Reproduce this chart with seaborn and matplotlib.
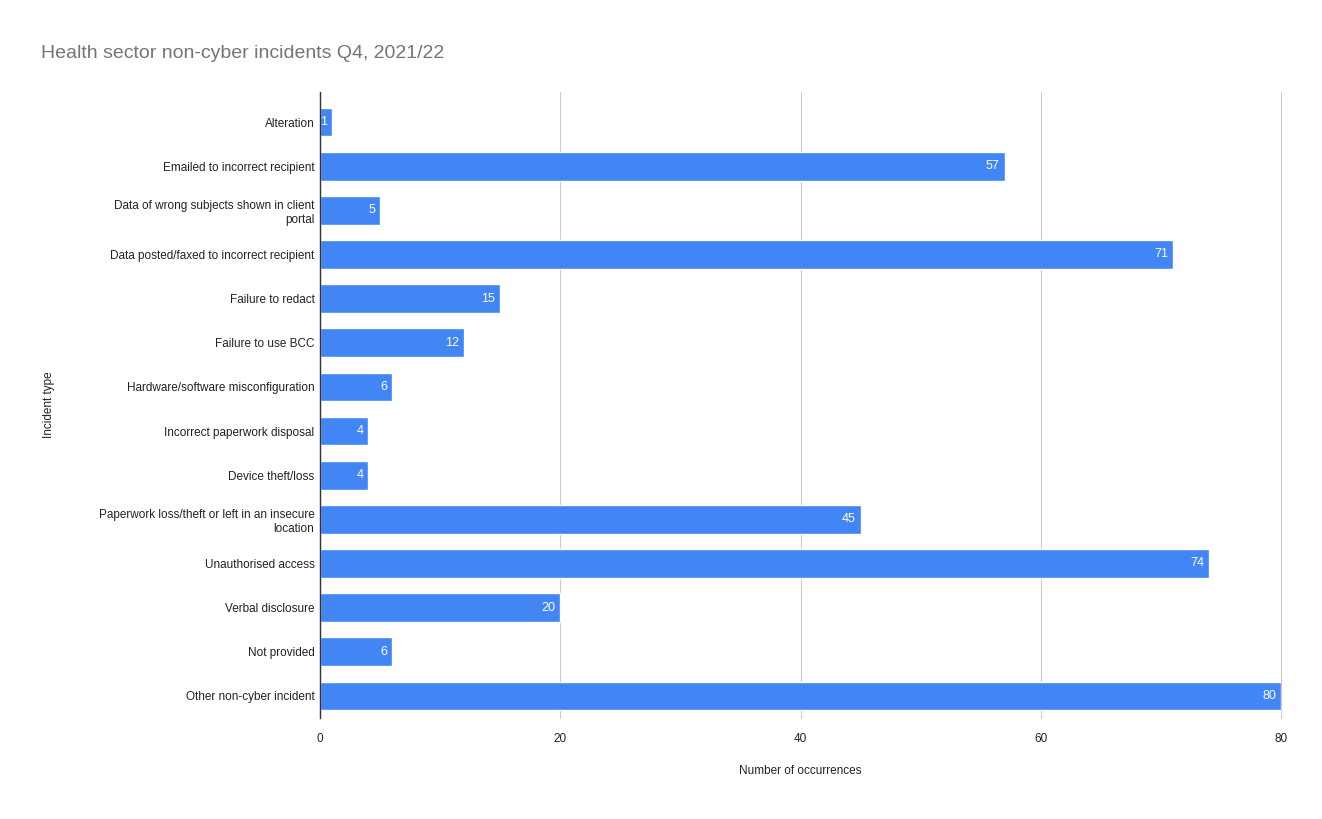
import matplotlib
matplotlib.use("Agg")
import matplotlib.pyplot as plt
import seaborn as sns
import pandas as pd

categories = [
    "Alteration",
    "Emailed to incorrect recipient",
    "Data of wrong subjects shown in client\nportal",
    "Data posted/faxed to incorrect recipient",
    "Failure to redact",
    "Failure to use BCC",
    "Hardware/software misconfiguration",
    "Incorrect paperwork disposal",
    "Device theft/loss",
    "Paperwork loss/theft or left in an insecure\nlocation",
    "Unauthorised access",
    "Verbal disclosure",
    "Not provided",
    "Other non-cyber incident",
]
values = [1, 57, 5, 71, 15, 12, 6, 4, 4, 45, 74, 20, 6, 80]
xticks = [0, 20, 40, 60, 80]

sns.set_theme(style="white")
plt.rcParams["font.family"] = ["Liberation Sans", "DejaVu Sans"]

df = pd.DataFrame({"cat": categories, "val": values})

fig = plt.figure(figsize=(13.22, 8.19), dpi=100)
ax = fig.add_axes([320/1322, 1-718/819, (1281-320)/1322, (718-92)/819])

sns.barplot(data=df, y="cat", x="val", color="#4285F4", saturation=1,
            width=0.65, ax=ax, orient="h")

for i, v in enumerate(values):
    ax.annotate(str(v), (v, i), xytext=(-3.5, 0), textcoords="offset points",
                ha="right", va="center", color="white", fontsize=9)

ax.set_xlim(0, 80)
ax.set_ylim(13.5, -0.68)
ax.set_xticks(xticks)
ax.set_xticklabels([str(t) for t in xticks], fontsize=8.5, color="#222222")
ax.tick_params(axis="y", labelsize=8.5, colors="#222222", length=0, pad=4)
ax.tick_params(axis="x", length=0, pad=11)
ax.grid(axis="x", color="#cccccc", linewidth=0.8)
for gl in ax.get_xgridlines():
    gl.set_clip_on(False)
ax.set_axisbelow(True)
for s in ["top", "right", "bottom"]:
    ax.spines[s].set_visible(False)
ax.spines["left"].set_color("#333333")
ax.spines["left"].set_linewidth(1)

ax.set_xlabel("Number of occurrences", fontsize=8.5, color="#222222", labelpad=14)
ax.set_ylabel("Incident type", fontsize=8.5, color="#222222")
ax.yaxis.set_label_coords(-(320-55)/961, 0.5)

fig.text(41/1322, 1-53/819, "Health sector non-cyber incidents Q4, 2021/22",
         fontsize=14, color="#757575", ha="left", va="center")

fig.savefig("out.png", dpi=100, facecolor="white")
